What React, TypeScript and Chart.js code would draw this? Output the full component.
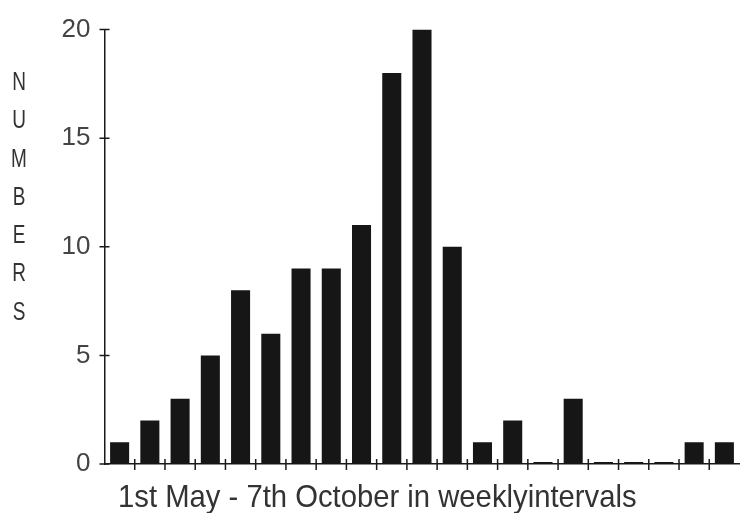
import React, { useEffect, useRef } from 'react';
import { Chart, registerables } from 'chart.js';

Chart.register(...registerables);

const weeks = ['Wk 1', 'Wk 2', 'Wk 3', 'Wk 4', 'Wk 5', 'Wk 6', 'Wk 7', 'Wk 8', 'Wk 9', 'Wk 10', 'Wk 11', 'Wk 12', 'Wk 13', 'Wk 14', 'Wk 15', 'Wk 16', 'Wk 17', 'Wk 18', 'Wk 19', 'Wk 20', 'Wk 21'];
const numbers = [1, 2, 3, 5, 8, 6, 9, 9, 11, 18, 20, 10, 1, 2, 0, 3, 0, 0, 0, 1, 1];
const yTickValues = [0, 5, 10, 15, 20];
const xTitle = '1st May - 7th October in weeklyintervals';
const yTitleLetters = ['N', 'U', 'M', 'B', 'E', 'R', 'S'];

const sans = '"Liberation Sans", Arial, sans-serif';

const crossTicks = {
  id: 'crossTicks',
  afterDatasetsDraw(chart: any) {
    const { ctx } = chart;
    const x = chart.scales.x;
    const y = chart.scales.y;
    ctx.save();
    ctx.strokeStyle = '#1a1a1a';
    ctx.lineWidth = 1.5;
    ctx.beginPath();
    y.ticks.forEach((_t: any, i: number) => {
      const py = y.getPixelForTick(i);
      ctx.moveTo(x.left - 5, py);
      ctx.lineTo(x.left + 5, py);
    });
    for (let i = 1; i < x.ticks.length; i++) {
      const px = (x.getPixelForTick(i - 1) + x.getPixelForTick(i)) / 2;
      ctx.moveTo(px, y.bottom - 5);
      ctx.lineTo(px, y.bottom + 6);
    }
    ctx.stroke();
    ctx.restore();
  },
};

export default function App() {
  const ref = useRef<HTMLCanvasElement | null>(null);

  useEffect(() => {
    document.body.style.margin = '0';
    if (!ref.current) return;
    const chart = new Chart(ref.current, {
      type: 'bar',
      data: {
        labels: weeks,
        datasets: [
          {
            data: numbers,
            backgroundColor: '#161616',
            borderWidth: 0,
            barPercentage: 0.63,
            categoryPercentage: 1,
            minBarLength: 2,
          },
        ],
      },
      options: {
        animation: false,
        responsive: true,
        maintainAspectRatio: false,
        layout: { padding: { top: 27, right: 0.5, left: 0, bottom: 0 } },
        plugins: { legend: { display: false }, tooltip: { enabled: false } },
        scales: {
          x: {
            grid: { display: false, drawTicks: false },
            border: { display: true, color: '#1a1a1a', width: 1.5 },
            ticks: { display: false },
            afterFit: (s: any) => {
              s.height = 49;
            },
          },
          y: {
            min: 0,
            max: 20,
            grid: { display: false, drawTicks: false },
            border: { display: true, color: '#1a1a1a', width: 1.5 },
            afterBuildTicks: (s: any) => {
              s.ticks = yTickValues.map((v) => ({ value: v }));
            },
            ticks: {
              padding: 14,
              color: '#444',
              font: { family: sans, size: 26 },
            },
            afterFit: (s: any) => {
              s.width = 104.5;
            },
          },
        },
      },
      plugins: [crossTicks],
    });
    return () => chart.destroy();
  }, []);

  return (
    <div style={{ position: 'relative', width: 740, height: 513, background: '#fff' }}>
      <canvas ref={ref} />
      <div
        style={{
          position: 'absolute',
          left: 0,
          top: 62,
          width: 38,
          textAlign: 'center',
          fontFamily: sans,
          fontSize: 25,
          lineHeight: '38.3px',
          color: '#333',
        }}
      >
        {yTitleLetters.map((l, i) => (
          <div key={i} style={{ transform: 'scaleX(0.76)' }}>{l}</div>
        ))}
      </div>
      <div
        style={{
          position: 'absolute',
          left: 118,
          top: 478,
          whiteSpace: 'nowrap',
          fontFamily: sans,
          fontSize: 32,
          lineHeight: '36px',
          color: '#333',
          transform: 'scaleX(0.914)',
          transformOrigin: 'left center',
        }}
      >
        {xTitle}
      </div>
    </div>
  );
}
